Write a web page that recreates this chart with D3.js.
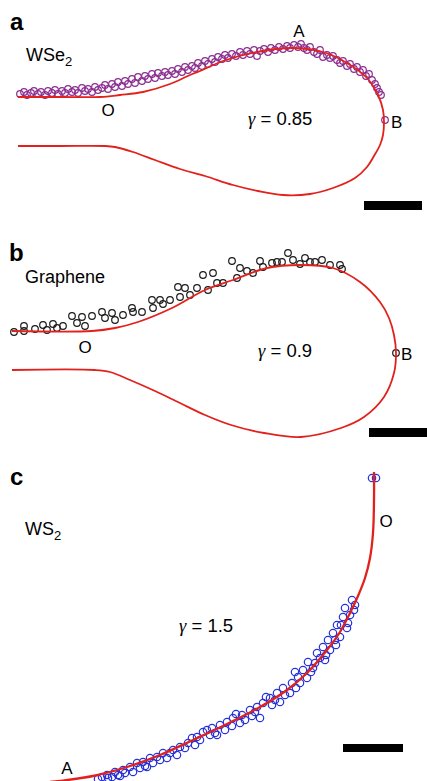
<!DOCTYPE html>
<html>

<head>
    <meta charset="utf-8">
    <style>
        body {
            margin: 0;
            background: #fff;
        }

        svg {
            display: block;
            font-family: 'Liberation Sans', Arial, sans-serif;
        }

        .panel-letter {
            font-weight: bold;
            font-size: 24px;
        }

        .name {
            font-size: 18px;
        }

        .point-label {
            font-size: 17px;
        }

        .gamma {
            font-size: 18.5px;
        }

        .fit {
            fill: none;
            stroke: #e2211c;
            stroke-width: 1.8;
        }
    </style>
</head>

<body>
    <svg width="427" height="781"></svg>

    <script src="https://d3js.org/d3.v7.min.js"></script>

    <script>
        // profiles, [x, y] in image units within each panel
        // (y measured down from the top of the panel)

        // panel a - WSe2
        let fitA = [
            [18, 97], [60, 97], [100, 97], [120, 95], [143, 92], [170, 84], [190, 75], [200, 71],
            [223, 61], [257, 52], [290, 48], [323, 52], [347, 63], [367, 78], [378, 95], [383, 110],
            [384, 122], [383, 135], [380, 145], [374, 156], [367, 167], [355, 178], [333, 188],
            [310, 194], [283, 195], [258, 191], [233, 185], [205, 176], [180, 169], [155, 160],
            [133, 152], [115, 147], [105, 146], [60, 146], [18, 146]
        ]
        let dotsA = [
            [20, 94], [24, 92], [27, 95], [31, 93], [34, 91], [38, 94], [41, 92], [45, 95], [48, 91],
            [52, 93], [55, 90], [58, 94], [62, 91], [65, 93], [68, 89], [72, 92], [75, 90], [78, 93],
            [82, 88], [85, 91], [88, 89], [92, 92], [95, 87], [98, 90], [102, 88], [105, 85], [108, 89],
            [112, 84], [115, 87], [118, 82], [122, 86], [125, 81], [128, 84], [132, 79], [135, 83],
            [138, 77], [142, 81], [145, 76], [148, 79], [152, 74], [155, 78], [158, 73], [162, 76],
            [165, 72], [168, 75], [172, 71], [175, 74], [178, 69], [182, 72], [185, 67], [188, 70],
            [192, 66], [195, 68], [198, 63], [202, 66], [205, 61], [208, 64], [212, 59], [215, 62],
            [218, 57], [222, 59], [225, 55], [228, 58], [232, 54], [236, 56], [240, 52], [243, 55],
            [247, 51], [250, 54], [254, 50], [257, 56], [260, 51], [264, 49], [268, 52], [271, 48],
            [275, 50], [279, 47], [283, 49], [287, 46], [290, 48], [294, 45], [298, 47], [301, 44],
            [304, 48], [307, 50], [310, 47], [314, 52], [317, 54], [320, 50], [323, 57], [327, 55],
            [330, 58], [333, 56], [337, 60], [340, 63], [343, 61], [347, 66], [350, 64], [354, 69],
            [357, 67], [360, 72], [363, 70], [366, 76], [369, 74], [372, 80], [375, 84], [377, 88],
            [379, 92], [381, 95], [385, 120]
        ]

        // panel b - graphene
        let fitB = [
            [12, 91], [92, 91], [115, 88], [138, 82], [172, 68], [205, 50], [233, 40], [267, 28],
            [300, 25], [333, 28], [360, 42], [380, 62], [389, 78], [394, 95], [396, 113], [394, 133],
            [384, 157], [364, 177], [341, 188], [301, 197], [264, 193], [231, 185], [205, 175],
            [180, 163], [155, 151], [130, 140], [110, 132], [95, 130], [12, 130]
        ]
        let dotsB = [
            [14, 92], [24, 91], [24, 86], [35, 89], [43, 85], [47, 90], [53, 84], [57, 88], [63, 86],
            [72, 76], [77, 83], [82, 77], [85, 86], [92, 76], [102, 72], [105, 78], [112, 73],
            [115, 80], [123, 75], [132, 68], [133, 72], [142, 72], [152, 60], [153, 68], [160, 60],
            [163, 64], [170, 60], [178, 47], [180, 57], [185, 48], [190, 55], [197, 48], [203, 35],
            [213, 33], [208, 50], [217, 43], [223, 43], [232, 21], [237, 38], [240, 28], [247, 31],
            [253, 33], [260, 21], [263, 27], [272, 23], [277, 22], [282, 22], [288, 13], [293, 20],
            [300, 24], [305, 18], [310, 22], [315, 22], [322, 20], [330, 25], [340, 25], [342, 29],
            [396, 113]
        ]

        // panel c - WS2
        let fitC = [
            [374, 22], [374, 50], [373, 83], [370, 108], [365, 128], [358, 146], [350, 163],
            [340, 182], [327, 200], [307, 223], [287, 240], [260, 257], [227, 274], [193, 290],
            [160, 305], [127, 317], [93, 326], [60, 331], [50, 332]
        ]
        let dotsC = [
            [372, 28], [376, 28],
            [352, 150], [355, 155], [345, 158], [354, 160], [350, 165], [343, 167], [337, 175],
            [348, 173], [341, 175], [347, 178], [333, 183], [340, 187], [328, 190], [335, 190],
            [336, 195], [323, 197], [330, 200], [317, 203], [326, 205], [320, 208], [325, 210],
            [308, 212], [315, 213], [313, 218], [303, 220], [295, 222], [311, 222], [298, 227],
            [307, 228], [292, 233], [300, 233], [283, 238], [296, 238], [290, 243], [277, 243],
            [285, 245], [266, 247], [270, 248], [275, 250], [280, 252], [263, 253], [272, 255],
            [257, 257], [250, 260], [255, 262], [236, 264], [242, 265], [252, 266], [260, 268],
            [233, 268], [245, 270], [227, 272], [240, 273], [220, 275], [232, 276], [212, 278],
            [207, 280], [225, 280], [203, 282], [215, 283], [217, 285], [210, 285], [197, 287],
            [192, 288], [200, 290], [188, 293], [195, 295], [180, 297], [185, 298], [173, 300],
            [163, 303], [170, 303], [177, 305], [157, 307], [167, 308], [150, 308], [160, 310],
            [143, 312], [137, 313], [153, 313], [145, 316], [147, 317], [130, 317], [140, 318],
            [123, 320], [115, 322], [133, 322], [125, 323], [118, 325], [107, 325], [120, 326],
            [102, 327], [112, 327], [108, 328], [98, 329]
        ]

        let panels = [
            { fit: fitA, dots: dotsA, top: 0, height: 240, color: "#8b2d90", r: 3.3, w: 1.8 },
            { fit: fitB, dots: dotsB, top: 240, height: 210, color: "#1a1a1a", r: 3.3, w: 1.8 },
            { fit: fitC, dots: dotsC, top: 450, height: 331, color: "#2733d6", r: 3.7, w: 2.3 }
        ]

        let svg = d3.select("svg")

        let x = d3.scaleLinear()
            .domain([0, 427])
            .range([0, 427])

        panels.forEach(function (p) {
            let y = d3.scaleLinear()
                .domain([0, p.height])
                .range([p.top, p.top + p.height])
            p.y = y

            let line = d3.line()
                .x(d => x(d[0]))
                .y(d => y(d[1]))
                .curve(d3.curveCatmullRom.alpha(0.5))

            let g = svg.append("g")

            g.selectAll("circle")
                .data(p.dots)
                .join("circle")
                .attr("cx", d => x(d[0]))
                .attr("cy", d => y(d[1]))
                .attr("r", p.r)
                .attr("fill", "none")
                .attr("stroke", p.color)
                .attr("stroke-width", 1.2)

            g.append("path")
                .attr("class", "fit")
                .attr("d", line(p.fit))
                .style("stroke-width", p.w)
        })

        // scale bars
        let bars = [[0, 364, 422, 201, 210], [1, 369, 427, 188, 197], [2, 343, 403, 294, 302]]
        bars.forEach(function (b) {
            let y = panels[b[0]].y
            svg.append("rect")
                .attr("x", x(b[1]))
                .attr("y", y(b[3]))
                .attr("width", x(b[2]) - x(b[1]))
                .attr("height", y(b[4]) - y(b[3]))
                .attr("fill", "#000")
        })

        // text
        function addText(cls, px, py, str, anchor) {
            return svg.append("text")
                .attr("class", cls)
                .attr("x", px)
                .attr("y", py)
                .attr("text-anchor", anchor || "start")
                .text(str)
        }

        function addName(px, py, main, sub) {
            let t = svg.append("text")
                .attr("class", "name")
                .attr("x", px)
                .attr("y", py)
            t.append("tspan").text(main)
            if (sub) {
                t.append("tspan").attr("font-size", 13).attr("dy", 5).text(sub)
            }
        }

        function addGamma(px, py, val) {
            let t = svg.append("text")
                .attr("class", "gamma")
                .attr("x", px)
                .attr("y", py)
            t.append("tspan")
                .style("font-family", "'Liberation Serif', 'Times New Roman', serif")
                .style("font-style", "italic")
                .text("\u03b3")
            t.append("tspan").text(" = " + val)
        }

        addText("panel-letter", 10, 30, "a")
        addName(26, 61, "WSe", "2")
        addText("point-label", 108, 116, "O", "middle")
        addText("point-label", 299, 37, "A", "middle")
        addText("point-label", 391, 128, "B")
        addGamma(248, 125, "0.85")

        addText("panel-letter", 9, 261, "b")
        addName(25, 283, "Graphene")
        addText("point-label", 85, 353, "O", "middle")
        addText("point-label", 401, 360, "B")
        addGamma(258, 357, "0.9")

        addText("panel-letter", 10, 485, "c")
        addName(25, 535, "WS", "2")
        addText("point-label", 386, 527, "O", "middle")
        addText("point-label", 67, 774, "A", "middle")
        addGamma(179, 632, "1.5")
    </script>
</body>

</html>
